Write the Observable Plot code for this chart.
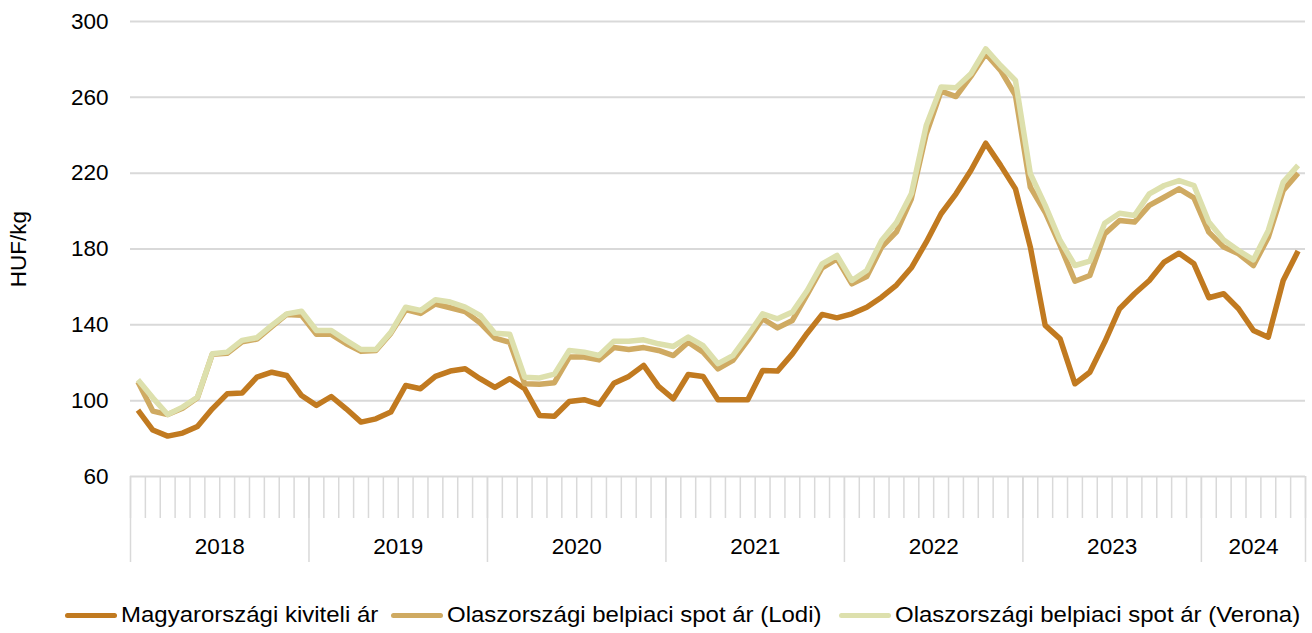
<!DOCTYPE html>
<html>
<head>
<meta charset="utf-8">
<script src="https://cdn.jsdelivr.net/npm/d3@7"></script>
<script src="https://cdn.jsdelivr.net/npm/@observablehq/plot@0.6"></script>
<style>
  html, body { margin: 0; padding: 0; background: #fff; }
  #wrap { width: 1312px; font-family: "Liberation Sans", Arial, sans-serif; }
  #legend { position: relative; height: 53px; width: 1312px; font-size: 22px; color: #000; }
  .item { position: absolute; top: 22px; display: flex; align-items: center; white-space: nowrap; }
  .sw { width: 52px; height: 5px; border-radius: 3px; margin-right: 4px; }
  .lt { display: inline-block; transform: scaleX(1.09); transform-origin: left center; line-height: 26px; }
</style>
</head>
<body>
<div id="wrap"></div>
<script>
// ---- data (monthly, Jan 2018 – Jul 2024) ----
const seriesNames = [
  "Magyarországi kiviteli ár",
  "Olaszországi belpiaci spot ár (Lodi)",
  "Olaszországi belpiaci spot ár (Verona)"
];
const seriesColors = ["#C17A20", "#CFAA62", "#DDE0AD"];

const magyar = [
  95, 84.5, 81.3, 82.9, 86.4, 95.7, 103.6, 104, 112.4, 115, 113.3, 102.7,
  97.5, 102.2, 95.7, 88.7, 90.4, 94, 108, 106.3, 112.8, 115.6, 116.8, 111.6,
  107, 111.6, 106.3, 92.2, 91.8, 99.6, 100.5, 98, 109.2, 112.8, 118.6, 107.5,
  101, 113.8, 112.8, 100.5, 100.5, 100.5, 115.9, 115.6, 124.7, 135.6, 145.5, 143.7,
  145.8, 149.3, 154.6, 161, 170.1, 183.6, 198.6, 209.1, 221.4, 235.8, 224.1, 211.7,
  181, 139.7, 132.6, 108.9, 115, 130.9, 148.5, 156.4, 163.4, 173.1, 177.8, 172.2,
  154.3, 156.4, 148.5, 137, 133.5, 163.4, 178.9
];
const lodi = [
  110, 94.5, 92.7, 96, 101.5, 124.5, 125, 131, 132.5, 139, 145.5, 145,
  135, 135, 130, 126, 126.5, 135.5, 148, 146, 151, 149, 147, 141,
  133, 130.8, 108.9, 108.7, 109.5, 123, 123, 121.5, 128, 127, 128, 126.5,
  123.8, 130.8, 125.6, 116.8, 121.2, 131.8, 143.2, 138.4, 142.3, 156, 170.1, 174.8,
  161.6, 165.5, 181, 189, 206.5, 240.8, 263.3, 260.4, 271, 283, 274.2, 261,
  212.6, 199.4, 181.9, 163, 166, 188, 195, 194.2, 203, 207.3, 211.7, 207,
  188.9, 181, 177.5, 171.3, 186.2, 210.9, 220
];
const verona = [
  111, 101.5, 92.7, 96.6, 101.8, 124.7, 125.6, 131.8, 133.2, 139.7, 145.8, 147.2,
  137, 137, 131.8, 127, 127, 136, 149.3, 147.6, 153.2, 152, 149.3, 145,
  135.6, 135, 112.4, 112, 114, 126.5, 125.6, 123.8, 131.4, 131.4, 132.1, 130,
  128.6, 133.5, 129, 119.5, 123.8, 134.4, 145.8, 143.2, 146.7, 158.1, 172.2, 176.6,
  163.4, 168.7, 184.5, 194, 209.1, 245.1, 265.4, 265, 272.4, 285.6, 276.8, 268.9,
  219.7, 203, 184.5, 171.3, 173.6, 193.6, 198.9, 197.7, 209.1, 213.5, 216.1, 213.5,
  194.2, 184.8, 179.2, 174.3, 189.8, 215.3, 224.1
];
const years = ["2018", "2019", "2020", "2021", "2022", "2023", "2024"];
const monthsPerYear = [12, 12, 12, 12, 12, 12, 7];
const yTicks = [60, 100, 140, 180, 220, 260, 300];

// ---- derived structures ----
const nMonths = magyar.length;
const table = [];
[magyar, lodi, verona].forEach((arr, s) => {
  arr.forEach((v, i) => table.push({ series: seriesNames[s], i: i + 0.5, v }));
});
const monthBounds = d3.range(0, nMonths + 1);
const yearBounds = [0];
const yearCenters = [];
const yearLabelAt = new Map();
monthsPerYear.forEach((n, k) => {
  const start = yearBounds[yearBounds.length - 1];
  const c = start + n / 2;
  yearCenters.push(c);
  yearLabelAt.set(c, years[k]);
  yearBounds.push(start + n);
});

const gridColor = "#d9d9d9";

const chart = Plot.plot({
  width: 1312,
  height: 580,
  marginLeft: 130,
  marginRight: 7,
  marginTop: 21,
  marginBottom: 104,
  x: { type: "linear", domain: [0, nMonths] },
  y: { domain: [60, 300] },
  color: { domain: seriesNames, range: seriesColors },
  style: { fontFamily: "'Liberation Sans', Arial, sans-serif", fontSize: "22px", color: "#000", background: "#fff", overflow: "visible" },
  marks: [
    Plot.gridY(yTicks, { stroke: gridColor, strokeOpacity: 1, strokeWidth: 2 }),
    Plot.axisY(yTicks, {
      tickSize: 0, tickPadding: 22, fontSize: 22.5,
      label: "HUF/kg", labelAnchor: "center", labelArrow: "none", labelOffset: 120
    }),
    Plot.axisX(monthBounds, {
      tickSize: 42, tickFormat: () => "", stroke: gridColor, strokeWidth: 1.5, strokeOpacity: 1, label: null
    }),
    Plot.axisX(yearBounds, {
      tickSize: 86, tickFormat: () => "", stroke: gridColor, strokeWidth: 1.5, strokeOpacity: 1, label: null
    }),
    Plot.axisX(yearCenters, {
      tickSize: 0, tickPadding: 62, fontSize: 22.5, tickFormat: d => yearLabelAt.get(d), label: null
    }),
    Plot.line(table, {
      x: "i", y: "v", z: "series", stroke: "series",
      strokeWidth: 5.5, strokeLinejoin: "round", strokeLinecap: "butt"
    })
  ]
});

const wrap = document.getElementById("wrap");
wrap.appendChild(chart);

// ---- legend ----
const legend = document.createElement("div");
legend.id = "legend";
const lefts = [65, 391, 839];
seriesNames.forEach((name, k) => {
  const it = document.createElement("div");
  it.className = "item";
  it.style.left = lefts[k] + "px";
  const sw = document.createElement("span");
  sw.className = "sw";
  sw.style.background = seriesColors[k];
  const tx = document.createElement("span");
  tx.className = "lt";
  tx.textContent = name;
  it.appendChild(sw);
  it.appendChild(tx);
  legend.appendChild(it);
});
wrap.appendChild(legend);
</script>
</body>
</html>
